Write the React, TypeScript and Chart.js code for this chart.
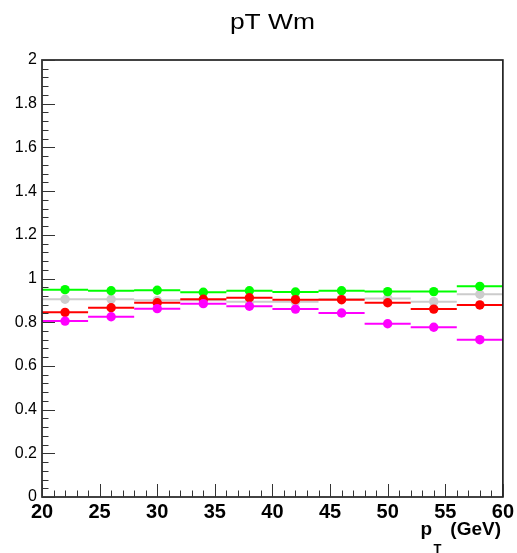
import React, { useEffect, useRef } from "react";
import { Chart, registerables } from "chart.js";

Chart.register(...registerables);

const binCenters = [22, 26, 30, 34, 38, 42, 46, 50, 54, 58];
const binHalfWidth = 2;

const greenValues = [0.949, 0.944, 0.946, 0.937, 0.944, 0.938, 0.944, 0.940, 0.940, 0.964];
const grayValues = [0.905, 0.905, 0.900, 0.900, 0.894, 0.894, 0.906, 0.909, 0.894, 0.928];
const redValues = [0.845, 0.866, 0.889, 0.905, 0.912, 0.903, 0.903, 0.889, 0.860, 0.879];
const magentaValues = [0.805, 0.825, 0.862, 0.885, 0.873, 0.860, 0.842, 0.793, 0.777, 0.720];

const titleText = "pT Wm";
const xTitleMain = "p";
const xTitleSub = "T";
const xTitleUnit = "(GeV)";

const toPoints = (vals: number[]) => vals.map((v, i) => ({ x: binCenters[i], y: v }));

const rootPlugin = {
  id: "rootStyle",
  beforeDatasetDraw(chart: any, args: any) {
    const ds = chart.data.datasets[args.index];
    const xs = chart.scales.x;
    const ys = chart.scales.y;
    const ctx = chart.ctx;
    ctx.save();
    ctx.strokeStyle = ds.backgroundColor;
    ctx.lineWidth = 2;
    ctx.beginPath();
    for (const p of ds.data) {
      const py = ys.getPixelForValue(p.y);
      ctx.moveTo(xs.getPixelForValue(p.x - binHalfWidth), py);
      ctx.lineTo(xs.getPixelForValue(p.x + binHalfWidth), py);
    }
    ctx.stroke();
    ctx.restore();
  },
  afterDraw(chart: any) {
    const ctx = chart.ctx;
    const xs = chart.scales.x;
    const ys = chart.scales.y;
    const a = chart.chartArea;
    ctx.save();
    // frame
    ctx.strokeStyle = "#222";
    ctx.lineWidth = 1.7;
    ctx.strokeRect(a.left, a.top, a.right - a.left, a.bottom - a.top);
    // y ticks
    ctx.lineWidth = 1;
    ctx.strokeStyle = "#333";
    ctx.beginPath();
    for (let i = 0; i <= 50; i++) {
      const v = i * 0.04;
      const py = Math.round(ys.getPixelForValue(v)) + 0.5;
      const len = i % 5 === 0 ? 13 : 6.5;
      ctx.moveTo(a.left, py);
      ctx.lineTo(a.left + len, py);
    }
    // x ticks
    for (let v = 20; v <= 60; v++) {
      const px = Math.round(xs.getPixelForValue(v)) + 0.5;
      const len = v % 5 === 0 ? 13 : 6.5;
      ctx.moveTo(px, a.bottom);
      ctx.lineTo(px, a.bottom - len);
    }
    ctx.stroke();
    // title
    ctx.fillStyle = "#000";
    ctx.save();
    ctx.translate((a.left + a.right) / 2, 28.5);
    ctx.scale(1.2, 1);
    ctx.font = "22px 'Liberation Sans', Arial, sans-serif";
    ctx.textAlign = "center";
    ctx.textBaseline = "alphabetic";
    ctx.fillText(titleText, 0, 0);
    ctx.restore();
    // x axis title
    ctx.font = "bold 19px 'Liberation Sans', Arial, sans-serif";
    ctx.textBaseline = "alphabetic";
    ctx.textAlign = "right";
    ctx.fillText(xTitleUnit, 501, 535);
    ctx.textAlign = "left";
    ctx.fillText(xTitleMain, 420.5, 535);
    ctx.font = "bold 13px 'Liberation Sans', Arial, sans-serif";
    ctx.fillText(xTitleSub, 433.5, 552.5);
    ctx.restore();
  },
};

export default function App() {
  const ref = useRef<HTMLCanvasElement>(null);
  useEffect(() => {
    const canvas = ref.current;
    if (!canvas) return;
    const mk = (label: string, vals: number[], color: string) => ({
      label,
      data: toPoints(vals),
      backgroundColor: color,
      borderColor: color,
      borderWidth: 0,
      pointRadius: 4.7,
      pointHoverRadius: 4.7,
      showLine: false,
    });
    const chart = new Chart(canvas, {
      type: "scatter",
      data: {
        datasets: [
          mk("magenta", magentaValues, "#ff00ff"),
          mk("red", redValues, "#ff0000"),
          mk("green", greenValues, "#00ff00"),
          mk("gray", grayValues, "#cccccc"),
        ],
      },
      options: {
        animation: false,
        responsive: false,
        devicePixelRatio: 1,
        layout: { padding: { top: 60, right: 14, left: 0, bottom: 0 } },
        plugins: {
          legend: { display: false },
          title: { display: false },
          tooltip: { enabled: false },
        },
        events: [],
        scales: {
          x: {
            type: "linear",
            min: 20,
            max: 60,
            grid: { display: false, drawTicks: false },
            border: { display: false },
            ticks: {
              stepSize: 5,
              autoSkip: false,
              maxRotation: 0,
              padding: 3,
              color: "#000",
              font: { family: "'Liberation Sans', Arial, sans-serif", size: 20, weight: "bold" },
            },
            afterFit: (s: any) => {
              s.height = 56;
            },
          },
          y: {
            type: "linear",
            min: 0,
            max: 2,
            grid: { display: false, drawTicks: false },
            border: { display: false },
            ticks: {
              stepSize: 0.2,
              autoSkip: false,
              padding: 5,
              color: "#000",
              font: { family: "'Liberation Sans', Arial, sans-serif", size: 16 },
              callback: (v: any) => String(Math.round(Number(v) * 10) / 10),
            },
            afterFit: (s: any) => {
              s.width = 42;
            },
          },
        },
      } as any,
      plugins: [rootPlugin],
    });
    return () => chart.destroy();
  }, []);
  return (
    <div style={{ position: "fixed", left: 0, top: 0, width: 517, height: 553, background: "#fff" }}>
      <canvas ref={ref} width={517} height={553} style={{ width: 517, height: 553 }} />
    </div>
  );
}
